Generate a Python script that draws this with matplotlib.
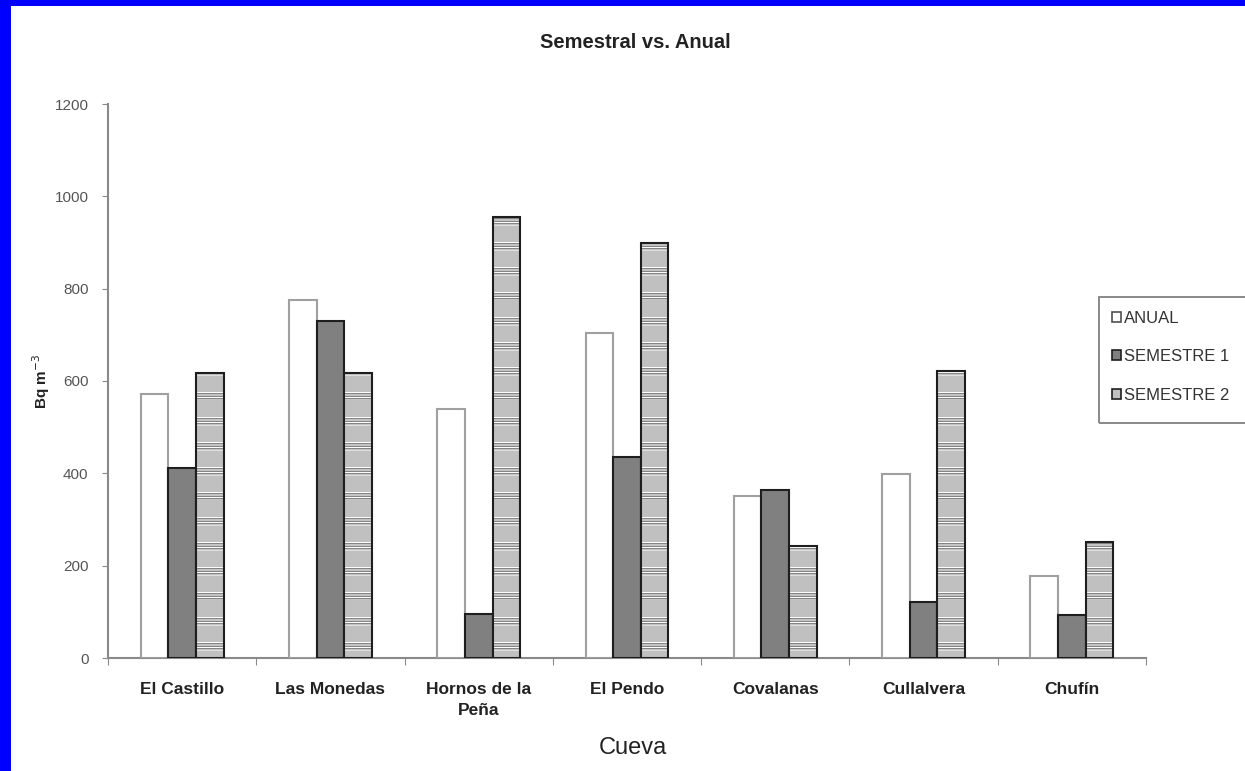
import warnings
import matplotlib
matplotlib.use('Agg')
import matplotlib.pyplot as plt
import matplotlib.patches as mpatches
import matplotlib.hatch as mhatch
from matplotlib.path import Path
import numpy as np

warnings.filterwarnings('ignore')
plt.rcParams['font.family'] = ['Liberation Sans', 'DejaVu Sans']
plt.rcParams['hatch.linewidth'] = 0.7

# ── data ───────────────────────────────────────────────────────────────────
caves = ["El Castillo", "Las Monedas", "Hornos de la\nPeña", "El Pendo",
         "Covalanas", "Cullalvera", "Chufín"]
anual = [572, 775, 540, 705, 350, 398, 178]
semestre1 = [411, 730, 95, 435, 364, 121, 93]
semestre2 = [617, 617, 955, 899, 243, 622, 252]
series_names = ["ANUAL", "SEMESTRE 1", "SEMESTRE 2"]


# ── striped texture: groups of thin horizontal lines (Excel-like fill) ─────
class _StripeGroups(mhatch.HatchPatternBase):
    char = 'w'
    offsets = (0.0, 0.025, 0.05, 0.075)
    groups = 4

    def __init__(self, hatch, density):
        used = hatch.count(self.char) > 0
        self.num_vertices = 2 * len(self.offsets) * self.groups if used else 0

    def set_vertices_and_codes(self, vertices, codes):
        ys = np.array([g / self.groups + o
                       for g in range(self.groups) for o in self.offsets])
        vertices[0::2, 0] = 0.0
        vertices[0::2, 1] = ys
        vertices[1::2, 0] = 1.0
        vertices[1::2, 1] = ys
        codes[0::2] = Path.MOVETO
        codes[1::2] = Path.LINETO


class _StripeGroupsDark(_StripeGroups):
    char = 'k'
    offsets = (0.0125, 0.0375, 0.0625)


mhatch._hatch_types.extend([_StripeGroups, _StripeGroupsDark])

# ── style ──────────────────────────────────────────────────────────────────
C_AXIS = '#8a8a8a'
C_TICK = '#555555'
C_TEXT = '#222222'
BAR_W = 0.186
W, H = 1245, 771

fig = plt.figure(figsize=(W / 100, H / 100), dpi=100, facecolor='white')
ax = fig.add_axes([108 / W, 113 / H, 1038 / W, 554 / H])

x = np.arange(len(caves)) + 0.5

ax.bar(x - BAR_W, anual, BAR_W, facecolor='white', edgecolor='#a0a0a0',
       linewidth=1.5, zorder=3)
ax.bar(x, semestre1, BAR_W, facecolor='#808080', edgecolor='#1e1e1e',
       linewidth=1.5, zorder=3)
# gray bars with white / dark stripe groups, outline drawn on top
ax.bar(x + BAR_W, semestre2, BAR_W, facecolor='#c0c0c0', edgecolor='white',
       hatch='w', linewidth=0, zorder=3)
ax.bar(x + BAR_W, semestre2, BAR_W, fill=False, edgecolor='#707070',
       hatch='k', linewidth=0, zorder=3)
ax.bar(x + BAR_W, semestre2, BAR_W, fill=False, edgecolor='#1e1e1e',
       linewidth=1.5, zorder=4)

ax.set_xlim(0, len(caves))
ax.set_ylim(0, 1200)
ax.set_yticks(np.arange(0, 1201, 200))
ax.set_xticks(np.arange(len(caves) + 1))
ax.set_xticklabels([])
ax.set_xticks(x, minor=True)
ax.set_xticklabels(caves, minor=True, fontsize=12.5, fontweight='bold',
                   color=C_TEXT, linespacing=1.5)
ax.tick_params(axis='x', which='minor', length=0, pad=17)
ax.tick_params(axis='x', which='major', length=5, direction='out', color=C_AXIS)
ax.tick_params(axis='y', length=4, direction='out', color=C_AXIS,
               labelsize=11, labelcolor=C_TICK, pad=10)

for s in ['top', 'right']:
    ax.spines[s].set_visible(False)
for s in ['left', 'bottom']:
    ax.spines[s].set_color(C_AXIS)
    ax.spines[s].set_linewidth(1.5)

ax.set_ylabel("Bq m$^{-3}$", fontsize=11, fontweight='bold', color=C_TEXT)
ax.yaxis.set_label_coords(-0.054, 0.5)
fig.text(633 / W, 1 - 748 / H, "Cueva", ha='center', va='center',
         fontsize=17, color=C_TEXT)
fig.text(635 / W, 1 - 42 / H, "Semestral vs. Anual", ha='center',
         va='center', fontsize=14.5, fontweight='bold', color=C_TEXT)

# ── legend (frame runs past the right edge like in the screenshot) ────────
h1 = mpatches.Patch(facecolor='white', edgecolor='#505050', linewidth=1.2)
h2 = mpatches.Patch(facecolor='#808080', edgecolor='#1e1e1e', linewidth=1.2)
h3 = mpatches.Patch(facecolor='#c0c0c0', edgecolor='#1e1e1e', linewidth=1.2)
leg = fig.legend([h1, h2, h3], series_names, loc='upper left',
                 bbox_to_anchor=(1112 / W, 1 - 311 / H),
                 fontsize=12, frameon=False,
                 handlelength=0.55, handleheight=0.55, handletextpad=0.15,
                 labelspacing=1.4, borderpad=0, borderaxespad=0)
for t in leg.get_texts():
    t.set_color('#333333')
fig.patches.append(mpatches.Rectangle((1099 / W, 1 - 423 / H), 170 / W, 126 / H,
                                      transform=fig.transFigure, fill=False,
                                      edgecolor='#808080', linewidth=1.3))

# ── blue border from the original screenshot ──────────────────────────────
fig.patches.append(mpatches.Rectangle((0, 0), 11 / W, 1, transform=fig.transFigure,
                                      facecolor='#0000ff', edgecolor='none', zorder=10))
fig.patches.append(mpatches.Rectangle((0, 1 - 6 / H), 1, 6 / H,
                                      transform=fig.transFigure,
                                      facecolor='#0000ff', edgecolor='none', zorder=10))

fig.savefig('out.png', dpi=100, facecolor='white')
plt.close(fig)
